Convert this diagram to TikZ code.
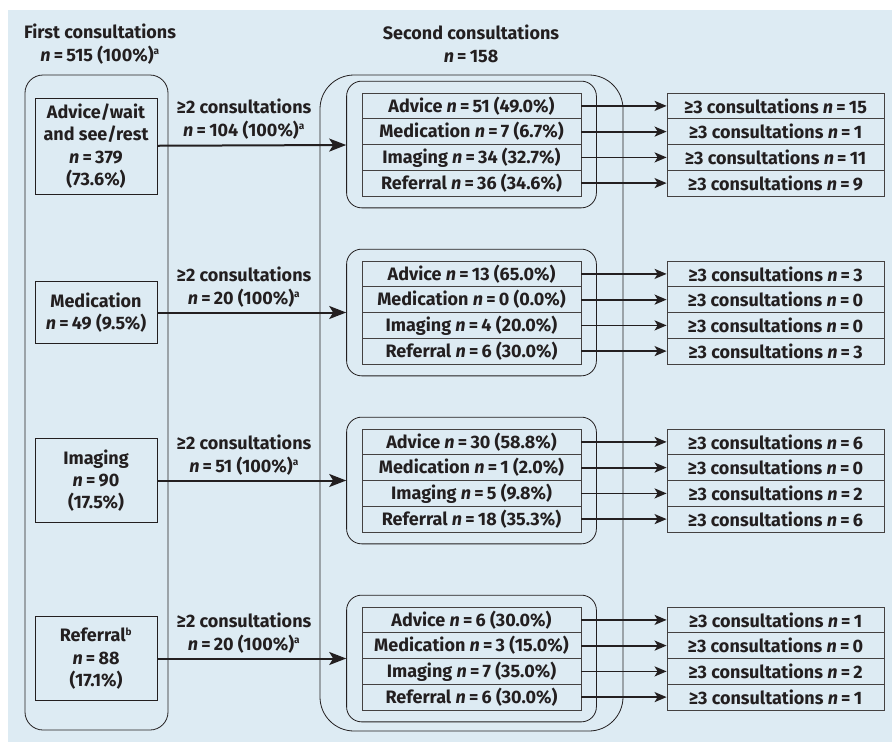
\documentclass[tikz,border=0pt]{standalone}
\usepackage{fontspec}
\setmainfont{Fira Sans}
\usetikzlibrary{arrows.meta,fit}
\definecolor{panel}{HTML}{DDEBF3}
\definecolor{ink}{HTML}{231F20}
\newcommand{\nis}{\textit{n}\hspace{0.18em}=\hspace{0.18em}}
\newcommand{\tc}{\textsuperscript{\fontsize{10}{10}\selectfont a}}

\begin{document}
\begin{tikzpicture}[x=1pt, y=-1pt, ink,
    font=\fontsize{18}{22.3}\selectfont\bfseries,
    every node/.style={text=ink},
    colbox/.style={draw=ink, line width=0.8pt},
    first/.style={draw=ink, line width=0.8pt, minimum width=122pt, align=center, inner sep=0pt},
    row/.style={draw=ink!85, line width=0.8pt, minimum width=219pt, minimum height=25.7pt, inner sep=0pt},
    third/.style={row, minimum width=217pt},
    grp/.style={draw=ink, line width=0.8pt, rounded corners=15pt, inner xsep=15pt, inner ysep=11.5pt},
    flow/.style={line width=2pt, -{Stealth[length=17pt, width=13pt, inset=4pt]}},
    onward/.style={line width=1.8pt, -{Stealth[length=12pt, width=10pt, inset=3pt]}}]
    \useasboundingbox (0, 0) rectangle (892, 742);
    \fill[panel] (8, 10) rectangle (892, 742);

    \draw (100, 44) node[align=center] (t1) {First consultations\\\nis 515 (100\%)\tc};
    \draw (471, 44) node[align=center] (t2) {Second consultations\\\nis 158};

    \draw (96.5, 402.5) node[colbox, rounded corners=18pt, minimum width=143pt, minimum height=655pt] (firstcol) {};
    \draw (471.5, 403) node[colbox, rounded corners=34pt, minimum width=303pt, minimum height=656pt] (secondcol) {};

    % first consultations
    \draw (96, 146) node[first, minimum height=96pt] (adv) {Advice/wait\\and see/rest\\\nis 379\\(73.6\%)};
    \draw (96, 312.5) node[first, minimum height=62pt] (med) {Medication\\\nis 49 (9.5\%)};
    \draw (96, 480.5) node[first, minimum height=84pt] (img) {Imaging\\\nis 90\\(17.5\%)};
    \draw (96, 658.5) node[first, minimum height=84pt] (ref) {Referral\textsuperscript{\fontsize{10}{10}\selectfont b}\\\nis 88\\(17.1\%)};

    % second consultations, after advice
    \draw (471.5, 105.9) node[row] (a1) {Advice \nis 51 (49.0\%)};
    \draw (471.5, 131.6) node[row] (a2) {Medication \nis 7 (6.7\%)};
    \draw (471.5, 157.4) node[row] (a3) {Imaging \nis 34 (32.7\%)};
    \draw (471.5, 183.1) node[row] (a4) {Referral \nis 36 (34.6\%)};
    % after medication
    \draw (471.5, 273.9) node[row] (m1) {Advice \nis 13 (65.0\%)};
    \draw (471.5, 299.6) node[row] (m2) {Medication \nis 0 (0.0\%)};
    \draw (471.5, 325.4) node[row] (m3) {Imaging \nis 4 (20.0\%)};
    \draw (471.5, 351.1) node[row] (m4) {Referral \nis 6 (30.0\%)};
    % after imaging
    \draw (471.5, 441.9) node[row] (i1) {Advice \nis 30 (58.8\%)};
    \draw (471.5, 467.6) node[row] (i2) {Medication \nis 1 (2.0\%)};
    \draw (471.5, 493.4) node[row] (i3) {Imaging \nis 5 (9.8\%)};
    \draw (471.5, 519.1) node[row] (i4) {Referral \nis 18 (35.3\%)};
    % after referral
    \draw (471.5, 619.9) node[row] (r1) {Advice \nis 6 (30.0\%)};
    \draw (471.5, 645.6) node[row] (r2) {Medication \nis 3 (15.0\%)};
    \draw (471.5, 671.4) node[row] (r3) {Imaging \nis 7 (35.0\%)};
    \draw (471.5, 697.1) node[row] (r4) {Referral \nis 6 (30.0\%)};

    \node[grp, fit=(a1)(a4)] (ga) {};
    \node[grp, fit=(m1)(m4)] (gm) {};
    \node[grp, fit=(i1)(i4)] (gi) {};
    \node[grp, fit=(r1)(r4)] (gr) {};

    % third consultations
    \draw (775.5, 105.9) node[third] (a1c) {≥3 consultations \nis 15};
    \draw (775.5, 131.6) node[third] (a2c) {≥3 consultations \nis 1};
    \draw (775.5, 157.4) node[third] (a3c) {≥3 consultations \nis 11};
    \draw (775.5, 183.1) node[third] (a4c) {≥3 consultations \nis 9};
    \draw (775.5, 273.9) node[third] (m1c) {≥3 consultations \nis 3};
    \draw (775.5, 299.6) node[third] (m2c) {≥3 consultations \nis 0};
    \draw (775.5, 325.4) node[third] (m3c) {≥3 consultations \nis 0};
    \draw (775.5, 351.1) node[third] (m4c) {≥3 consultations \nis 3};
    \draw (775.5, 441.9) node[third] (i1c) {≥3 consultations \nis 6};
    \draw (775.5, 467.6) node[third] (i2c) {≥3 consultations \nis 0};
    \draw (775.5, 493.4) node[third] (i3c) {≥3 consultations \nis 2};
    \draw (775.5, 519.1) node[third] (i4c) {≥3 consultations \nis 6};
    \draw (775.5, 619.9) node[third] (r1c) {≥3 consultations \nis 1};
    \draw (775.5, 645.6) node[third] (r2c) {≥3 consultations \nis 0};
    \draw (775.5, 671.4) node[third] (r3c) {≥3 consultations \nis 2};
    \draw (775.5, 697.1) node[third] (r4c) {≥3 consultations \nis 1};

    \draw (244, 119) node[align=center] (la) {≥2 consultations\\\nis 104 (100\%)\tc};
    \draw (244, 287) node[align=center] (lm) {≥2 consultations\\\nis 20 (100\%)\tc};
    \draw (244, 455) node[align=center] (li) {≥2 consultations\\\nis 51 (100\%)\tc};
    \draw (244, 633) node[align=center] (lr) {≥2 consultations\\\nis 20 (100\%)\tc};

    \draw[flow] (adv) -- (ga);
    \draw[flow] (med) -- (gm);
    \draw[flow] (img) -- (gi);
    \draw[flow] (ref) -- (gr);

    \draw[onward] (a1) -- (a1c);
    \draw[onward] (a2) -- (a2c);
    \draw[onward] (a3) -- (a3c);
    \draw[onward] (a4) -- (a4c);
    \draw[onward] (m1) -- (m1c);
    \draw[onward] (m2) -- (m2c);
    \draw[onward] (m3) -- (m3c);
    \draw[onward] (m4) -- (m4c);
    \draw[onward] (i1) -- (i1c);
    \draw[onward] (i2) -- (i2c);
    \draw[onward] (i3) -- (i3c);
    \draw[onward] (i4) -- (i4c);
    \draw[onward] (r1) -- (r1c);
    \draw[onward] (r2) -- (r2c);
    \draw[onward] (r3) -- (r3c);
    \draw[onward] (r4) -- (r4c);
\end{tikzpicture}
\end{document}
